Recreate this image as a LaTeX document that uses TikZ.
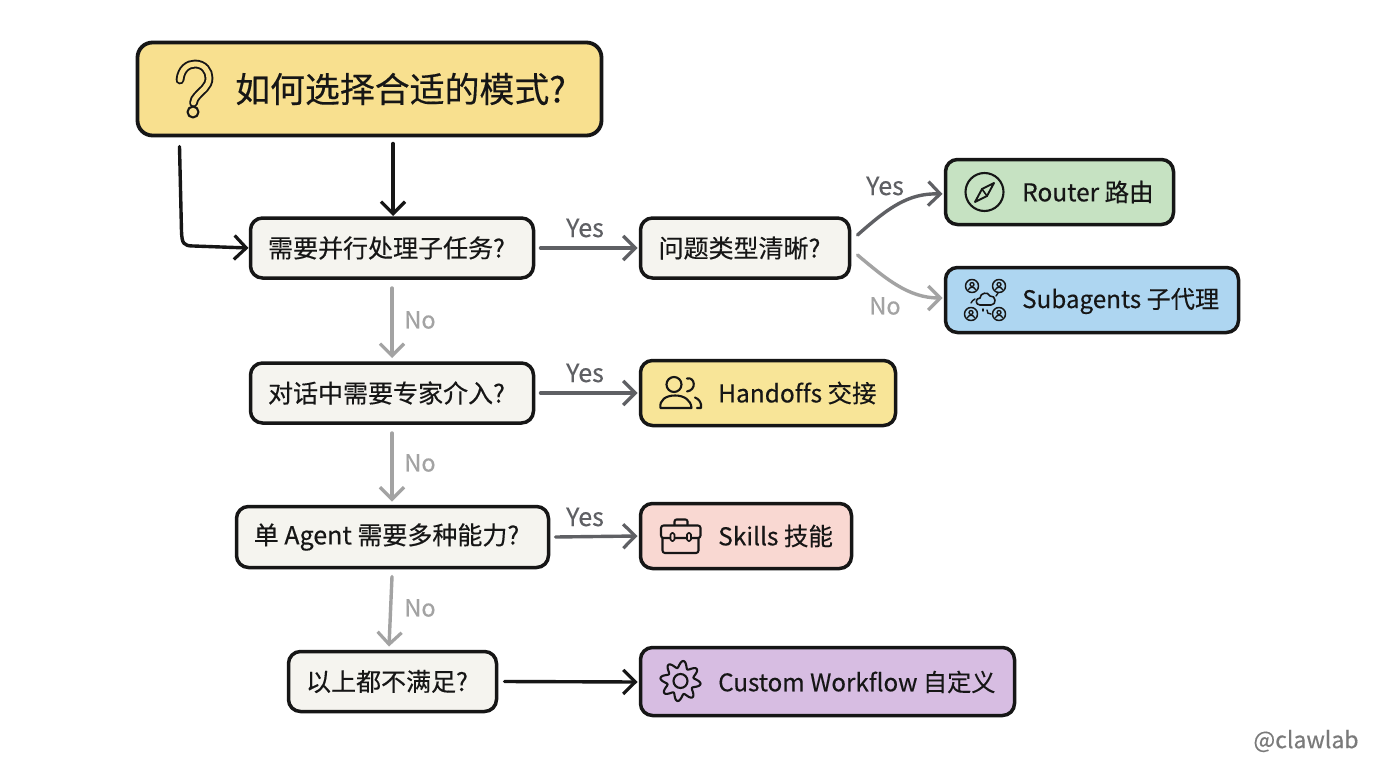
\documentclass[tikz,border=0pt]{standalone}
\usepackage{fontspec}
\setmainfont{Noto Sans CJK SC}[FakeBold=0.35,Ligatures=CommonOff]
\usetikzlibrary{arrows.meta}
\definecolor{titlefill}{HTML}{F8E08F}
\definecolor{askfill}{HTML}{F5F4EF}
\definecolor{greenfill}{HTML}{C6E2C2}
\definecolor{bluefill}{HTML}{AED6F1}
\definecolor{yellowfill}{HTML}{F8E598}
\definecolor{pinkfill}{HTML}{F9D8D2}
\definecolor{purplefill}{HTML}{D7BDE2}
\definecolor{inkc}{HTML}{161616}
\definecolor{yesc}{HTML}{5F6064}
\definecolor{noc}{HTML}{A3A3A3}
\tikzset{
 x=1pt,y=-1pt,
 boxbase/.style={draw=inkc,line width=3.5pt,rounded corners=12pt,inner sep=0pt,outer sep=0pt,text=inkc},
 titlebox/.style={boxbase,fill=titlefill,line width=3.8pt,rounded corners=15pt},
 askbox/.style={boxbase,fill=askfill,font=\fontsize{25pt}{26pt}\selectfont},
 resbox/.style={boxbase},
 restext/.style={anchor=west,inner sep=0pt,text=inkc,font=\fontsize{24.5pt}{26pt}\selectfont},
 yeslabel/.style={inner sep=0pt,text=yesc,font=\fontsize{25pt}{26pt}\selectfont},
 nolabel/.style={inner sep=0pt,text=noc,font=\fontsize{23.5pt}{24pt}\selectfont},
 flow/.style={line width=3.4pt,line cap=round,line join=round,-{Straight Barb[length=12pt,width=24pt,line width=3.2pt]}},
 startflow/.style={flow,draw=inkc},
 yesflow/.style={flow,draw=yesc},
 noflow/.style={flow,draw=noc},
 icon/.style={draw=inkc,line width=2.1pt,line cap=round,line join=round},
}
\begin{document}
\begin{tikzpicture}
\useasboundingbox (0,0) rectangle (1376,768);
\fill[white] (0,0) rectangle (1376,768);

% boxes
\node[titlebox,minimum width=464pt,minimum height=93pt] (title) at (369.5,89) {};
\node[inner sep=0pt,anchor=west,text=inkc,font=\fontsize{34.9pt}{36pt}\selectfont] (titletext) at (235,89) {如何选择合适的模式?};
\node[askbox,minimum width=283pt,minimum height=60pt] (q1) at (392,248) {需要并行处理子任务?\hspace{11pt}\null};
\node[askbox,minimum width=209pt,minimum height=60pt] (q2) at (745,248) {问题类型清晰?\hspace{11pt}\null};
\node[askbox,minimum width=283pt,minimum height=60pt] (q3) at (392,393) {对话中需要专家介入?\hspace{11pt}\null};
\node[askbox,minimum width=312pt,minimum height=61pt] (q4) at (392.5,537) {单 Agent 需要多种能力?\hspace{12pt}\null};
\node[askbox,minimum width=208pt,minimum height=60pt] (q5) at (392.5,681.5) {以上都不满足?\hspace{11pt}\null};
\node[resbox,fill=greenfill,minimum width=228pt,minimum height=65pt] (router) at (1059.5,192) {};
\node[resbox,fill=bluefill,minimum width=293pt,minimum height=65pt] (sub) at (1092,300) {};
\node[resbox,fill=yellowfill,minimum width=255pt,minimum height=65pt] (hand) at (768,393) {};
\node[resbox,fill=pinkfill,minimum width=211pt,minimum height=65pt] (skills) at (746,536) {};
\node[resbox,fill=purplefill,minimum width=374pt,minimum height=68pt] (custom) at (827.5,681.5) {};

% box texts
\node[restext] (routert) at (1022,192) {Router 路由};
\node[restext,font=\fontsize{24.2pt}{26pt}\selectfont] (subt) at (1022,301) {Subagents 子代理};
\node[restext] (handt) at (718,393) {Handoffs 交接};
\node[restext] (skillst) at (718,536) {Skills 技能};
\node[restext,font=\fontsize{24.2pt}{26pt}\selectfont] (customt) at (718,682) {Custom Workflow 自定义};

% connectors
\draw[startflow] ([xshift=42pt,yshift=-11pt]title.south west) -- ([xshift=44pt,yshift=-96pt]title.south west) .. controls ([xshift=44.5pt,yshift=-108pt]title.south west) and ([xshift=46pt,yshift=-110.5pt]title.south west) .. ([xshift=56pt,yshift=-110.5pt]title.south west) -- ([xshift=-2pt]q1.west);
\draw[startflow] ([xshift=23.5pt,yshift=-8pt]title.south) -- ([xshift=1pt,yshift=2pt]q1.north);
\draw[yesflow] ([xshift=7pt]q1.east) -- ([xshift=-3pt]q2.west);
\draw[yesflow] ([xshift=8pt,yshift=13pt]q2.east) .. controls (888,208) and (908,193) .. ([xshift=-3pt,yshift=-2pt]router.west);
\draw[noflow] ([xshift=8pt,yshift=-7pt]q2.east) .. controls (885,278) and (908,298) .. ([xshift=-3pt,yshift=2pt]sub.west);
\draw[noflow] ([yshift=-10pt]q1.south) -- ([yshift=5pt]q3.north);
\draw[yesflow] ([xshift=7pt]q3.east) -- ([xshift=-3pt]hand.west);
\draw[noflow] ([yshift=-10pt]q3.south) -- ([yshift=5pt,xshift=-.5pt]q4.north);
\draw[yesflow] ([xshift=7pt]q4.east) -- ([xshift=-3pt]skills.west);
\draw[noflow] ([yshift=-9pt,xshift=-.5pt]q4.south) -- ([yshift=5pt,xshift=-3.5pt]q5.north);
\draw[startflow] ([xshift=8pt]q5.east) -- ([xshift=-3pt,yshift=-.5pt]custom.west);

% connector labels
\node[yeslabel] (y1) at (585,228) {Yes};
\node[yeslabel] (y2) at (885,186) {Yes};
\node[nolabel] (n2) at (885,306) {No};
\node[nolabel] (n1) at (420,320) {No};
\node[yeslabel] (y3) at (585,373) {Yes};
\node[nolabel] (n3) at (420,463) {No};
\node[yeslabel] (y4) at (585,517) {Yes};
\node[nolabel] (n4) at (420,608) {No};

% question mark icon
\draw[draw=inkc,line width=1.9pt,double=titlefill,double distance=5pt,line cap=round]
 (180,80) .. controls (181,69) and (188,64) .. (195,64) .. controls (204,64) and (209,71) .. (209,78)
 .. controls (209,87) and (201,91) .. (197,96) .. controls (195,98) and (194,100) .. (193.5,103);
\draw[icon,fill=titlefill] (193,112) circle[radius=5.5pt];

% compass icon
\draw[icon] (984.5,192) circle[radius=19pt];
\draw[icon,line width=1.9pt] (994,183) -- (987,196) -- (975,202) -- (982,189) -- cycle;
\draw[icon,line width=1.6pt] (982,189) -- (987,196);

% subagents icon
\foreach \cx/\cy in {972/286,999/286,971/314,999/314}{
 \draw[icon,line width=1.5pt] (\cx,\cy) circle[radius=6.5pt];
 \draw[icon,line width=1.3pt] (\cx,\cy-1.5) circle[radius=2pt];
 \draw[icon,line width=1.3pt] (\cx-3.5,\cy+3.5) .. controls (\cx-2,\cy+.5) and (\cx+2,\cy+.5) .. (\cx+3.5,\cy+3.5);
}
\draw[icon,line width=1.6pt] (980,305) .. controls (975,305) and (975,298) .. (980,298)
 .. controls (980,293) and (988,291) .. (990,296) .. controls (996,295) and (997,305) .. (991,305) -- cycle;
\draw[icon,line width=1.4pt] (971,303) .. controls (972,301) and (973,300) .. (975,299);
\draw[icon,line width=1.4pt] (996,296) -- (998,293);
\draw[icon,line width=1.4pt] (987,310) .. controls (987,313) and (988,314) .. (991,314);
\draw[icon,line width=1.4pt] (983,311) -- (983,309);

% handoffs icon
\draw[icon] (674,384.5) circle[radius=7.5pt];
\draw[icon] (660.5,408) .. controls (659,400) and (666,395.5) .. (675,395.5) .. controls (684,395.5) and (691,400) .. (691.5,408) -- cycle;
\draw[icon] (687,378.5) .. controls (695,376.5) and (697,390) .. (687,391.5);
\draw[icon] (695,397.5) .. controls (699,399) and (702,403) .. (701,408) -- (697,408);

% skills icon
\draw[icon,rounded corners=2.5pt] (661,538) -- (661,525.5) -- (700.5,525.5) -- (700.5,538) -- cycle;
\draw[icon,rounded corners=2.5pt] (662.5,538) -- (662.5,553) -- (698.5,553) -- (698.5,538);
\draw[icon,rounded corners=2pt] (674.5,525) -- (674.5,519.5) -- (687.5,519.5) -- (687.5,525);
\draw[icon,fill=pinkfill,rounded corners=1.5pt,line width=1.6pt] (670.5,533) rectangle (674.5,541);
\draw[icon,fill=pinkfill,rounded corners=1.5pt,line width=1.6pt] (687,533) rectangle (691,541);

% gear icon
\draw[icon] plot[domain=0:360,samples=193,smooth] ({680.5+(16.8+3.4*sin(8*\x+22))*cos(\x)},{681+(16.8+3.4*sin(8*\x+22))*sin(\x)}) -- cycle;
\draw[icon] (680.5,681) circle[radius=7pt];

% credit
\node[inner sep=0pt,text=black!52,font=\fontsize{23pt}{24pt}\selectfont] (credit) at (1306,741) {@clawlab};
\end{tikzpicture}
\end{document}
